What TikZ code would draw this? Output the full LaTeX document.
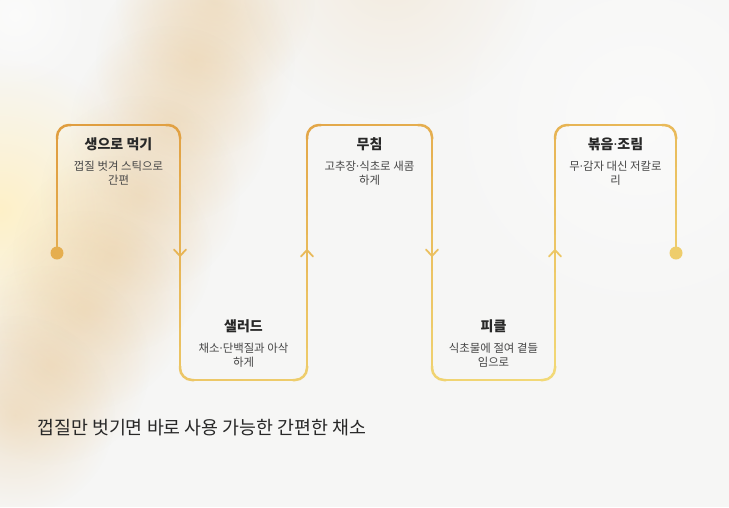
\documentclass[tikz,border=0pt]{standalone}
\usepackage{fontspec}
\newfontfamily\kr{Noto Sans CJK KR}
\newfontfamily\lat{Noto Sans}
\newcommand\md{{\lat ·}}
\usetikzlibrary{fadings}
\definecolor{bgc}{RGB}{246,246,245}
\definecolor{Oc}{RGB}{224,158,64}
\definecolor{Yc}{RGB}{243,220,122}
\definecolor{titlec}{RGB}{40,40,40}
\definecolor{descc}{RGB}{70,70,70}
\definecolor{peach}{RGB}{234,204,158}
\definecolor{cream}{RGB}{255,240,195}
\tikzfading[name=soft, inner color=transparent!0, outer color=transparent!100]
\newcommand\tcol[2]{\pgfmathsetmacro\tval{max(0,min(100,100*(0.5*(#1-57)/619+0.6*(#2-125)/255-0.05)))}}
\newcommand\gseg[4]{%
  \foreach \k in {1,...,12}{%
    \pgfmathsetmacro\xa{#1+(#3-#1)*(\k-1)/12}%
    \pgfmathsetmacro\ya{#2+(#4-#2)*(\k-1)/12}%
    \pgfmathsetmacro\xb{#1+(#3-#1)*\k/12}%
    \pgfmathsetmacro\yb{#2+(#4-#2)*\k/12}%
    \tcol{(\xa+\xb)/2}{(\ya+\yb)/2}%
    \draw[pathline, draw=Yc!\tval!Oc] (\xa,\ya) -- (\xb,\yb);}}
\newcommand\gcorner[6]{%
  \tcol{#3}{#4}%
  \draw[pathline, rounded corners=12pt, draw=Yc!\tval!Oc] (#1,#2) -- (#3,#4) -- (#5,#6);}
\newcommand\chev[3]{% x y dir(1 down,-1 up)
  \tcol{#1}{#2}%
  \draw[arrowline, draw=Yc!\tval!Oc] (#1-6,#2-3.5*#3) -- (#1,#2+3*#3) -- (#1+6,#2-3.5*#3);}
\tikzset{
  pathline/.style={line width=2.5pt, line cap=round},
  arrowline/.style={line width=1.8pt, line cap=round, line join=miter},
  ttl/.style={font=\kr\bfseries\fontsize{14}{16}\selectfont, text=titlec, inner sep=0pt},
  dsc/.style={font=\kr\fontsize{11.4}{14.5}\selectfont, text=descc, align=center, inner sep=0pt},
  blob/.style={path fading=soft},
}
\begin{document}
\begin{tikzpicture}[x=1pt, y=-1pt]
\useasboundingbox (0,0) rectangle (729,507);
\fill[bgc] (0,0) rectangle (729,507);
% background glow
\fill[white, blob, fill opacity=0.6] (15,15) circle (80);
\fill[white, blob, fill opacity=0.5] (640,120) circle (220);
\fill[cream, blob, fill opacity=0.9] (0,210) circle (150);
\foreach \p in {(215,0),(195,60),(170,125),(140,195),(112,255),(85,310),(50,365),(15,415)}
  \fill[peach, blob, fill opacity=0.45] \p circle (100);
\fill[peach, blob, fill opacity=0.25] (390,-30) circle (150);
% path
\gseg{57}{253}{57}{139}
\gcorner{57}{139}{57}{125}{71}{125}
\gseg{71}{125}{166}{125}
\gcorner{166}{125}{180}{125}{180}{139}
\gseg{180}{139}{180}{366}
\gcorner{180}{366}{180}{380}{194}{380}
\gseg{194}{380}{293}{380}
\gcorner{293}{380}{307}{380}{307}{366}
\gseg{307}{366}{307}{139}
\gcorner{307}{139}{307}{125}{321}{125}
\gseg{321}{125}{418}{125}
\gcorner{418}{125}{432}{125}{432}{139}
\gseg{432}{139}{432}{366}
\gcorner{432}{366}{432}{380}{446}{380}
\gseg{446}{380}{541}{380}
\gcorner{541}{380}{555}{380}{555}{366}
\gseg{555}{366}{555}{139}
\gcorner{555}{139}{555}{125}{569}{125}
\gseg{569}{125}{662}{125}
\gcorner{662}{125}{676}{125}{676}{139}
\gseg{676}{139}{676}{253}
% end dots
\tcol{57}{253}
\fill[Yc!\tval!Oc] (57,253) circle (6.5) coordinate (start);
\tcol{676}{253}
\fill[Yc!\tval!Oc] (676,253) circle (6.5) coordinate (end);
% arrows
\chev{180}{253}{1}
\chev{307}{253}{-1}
\chev{432}{253}{1}
\chev{555}{253}{-1}
% texts
\node[ttl] (t1) at (118.5,144) {생으로 먹기};
\node[dsc] (d1) at (118.5,173) {껍질 벗겨 스틱으로\\간편};
\node[ttl] (t2) at (243.5,326) {샐러드};
\node[dsc] (d2) at (243.5,355) {채소\md 단백질과 아삭\\하게};
\node[ttl] (t3) at (369.5,144) {무침};
\node[dsc] (d3) at (369.5,173) {고추장\md 식초로 새콤\\하게};
\node[ttl] (t4) at (493.5,326) {피클};
\node[dsc] (d4) at (493.5,355) {식초물에 절여 곁들\\임으로};
\node[ttl] (t5) at (615.5,144) {볶음\md 조림};
\node[dsc] (d5) at (615.5,173) {무\md 감자 대신 저칼로\\리};
\node[anchor=west, font=\kr\fontsize{18.4}{21}\selectfont, text=titlec, inner sep=0pt] (cap) at (37,428) {껍질만 벗기면 바로 사용 가능한 간편한 채소};
\end{tikzpicture}
\end{document}
